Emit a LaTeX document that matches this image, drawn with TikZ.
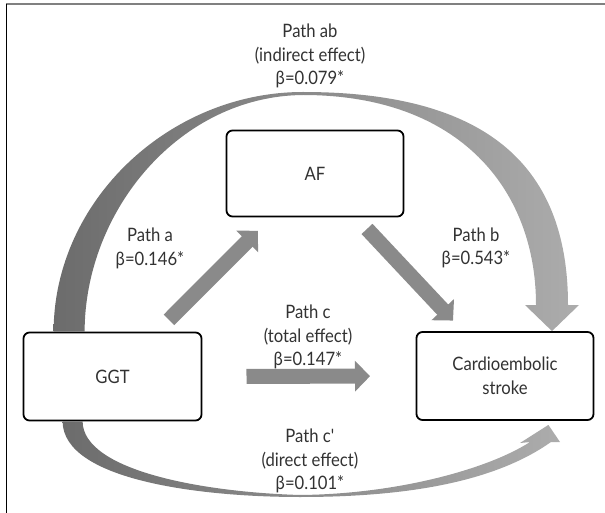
\documentclass[tikz,border=0pt]{standalone}
\usepackage{fontspec}
\setmainfont{Lato}[FakeStretch=0.9]
\usetikzlibrary{arrows.meta,calc}
\definecolor{darkarc}{RGB}{108,108,108}
\definecolor{lightarc}{RGB}{172,172,172}
\definecolor{arrowgray}{RGB}{138,138,138}
\definecolor{labelgray}{RGB}{50,50,50}

\tikzset{
  varbox/.style={draw=black,line width=1.8pt,rounded corners=6pt,fill=white,align=center,inner sep=0pt,text=labelgray,font=\fontsize{18.5}{24}\selectfont},
  fatarrow/.style={draw=arrowgray,line width=15pt,line cap=butt,-{Triangle[width=30pt,length=15pt]}},
  pathlabel/.style={align=center,text=labelgray,font=\fontsize{18.5}{23.5}\selectfont},
}

\begin{document}
\begin{tikzpicture}[line join=round,x=1pt,y=-1pt]
\useasboundingbox (0,0) rectangle (605,513);
% frame
\draw [line width=1.5pt,color=gray] (6,4)-- (605,4);
\draw [line width=1.5pt] (6.5,4)-- (6.5,513);
% variables
\node[varbox,minimum width=178pt,minimum height=88pt] (ggt) at (112.5,376.5) {GGT};
\node[varbox,minimum width=177pt,minimum height=86pt] (af) at (315,173.5) {AF};
\node[varbox,minimum width=177pt,minimum height=88pt] (cardio) at (505,376) {Cardioembolic\\stroke};
% path ab
\coordinate (abtip) at ($(cardio.north)+(47,0)$);
\shade[left color=darkarc,right color=lightarc]
  ($(ggt.north west)+(31,0)$) .. controls (54,200) and (170,92) .. (303,92)
  .. controls (480,92) and (568,160) .. (568,305) -- (579,305) -- (abtip) -- (525,305) -- (536,305)
  .. controls (536,190) and (460,95) .. (303,95)
  .. controls (180,96) and (85,210) .. ($(ggt.north west)+(62,0)$) -- cycle;
% path c'
\coordinate (cptip) at ($(cardio.south east)+(-46,4)$);
\shade[left color=darkarc,right color=lightarc]
  ($(ggt.south west)+(40,0)$) .. controls (63,480) and (200,497) .. (300,497)
  .. controls (420,497) and (500,478) .. (551,442) -- (560,442) -- (cptip) -- (520,443) -- (530,442)
  .. controls (490,468) and (400,494) .. (300,495)
  .. controls (200,492) and (83,470) .. ($(ggt.south west)+(60,0)$) -- cycle;
% paths a, b, c
\draw[fatarrow,shorten <=80pt,shorten >=81pt] (ggt.center) -- (af.center);
\draw[fatarrow,shorten <=76pt,shorten >=76pt] (af.center) -- (cardio.center);
\draw[fatarrow,shorten <=134pt,shorten >=135pt] (ggt.center) -- (cardio.center);
% labels
\node[pathlabel] (labab) at (310,56) {Path ab\\(indirect effect)\\β=0.079*};
\node[pathlabel] (laba) at (150,248.5) {Path a\\β=0.146*};
\node[pathlabel] (labb) at (476,248) {Path b\\β=0.543*};
\node[pathlabel] (labc) at (308,337) {Path c\\(total effect)\\β=0.147*};
\node[pathlabel] (labcp) at (310,461) {Path c\textquotesingle\\(direct effect)\\β=0.101*};
\end{tikzpicture}
\end{document}
